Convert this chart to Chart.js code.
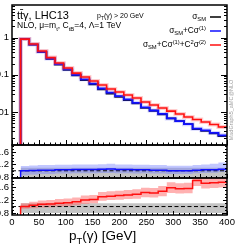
<!DOCTYPE html>
<html>
<head>
<meta charset="utf-8">
<script src="https://cdn.jsdelivr.net/npm/chart.js@4.4.0/dist/chart.umd.min.js"></script>
<style>
  html, body { margin: 0; padding: 0; background: #fff; overflow: hidden; width: 244px; height: 252px; }
  body { position: relative; }
  canvas { position: absolute; left: -24px; }
</style>
</head>
<body>
<canvas id="main" style="top:0px" width="268" height="147"></canvas>
<canvas id="ratio1" style="top:143px" width="268" height="37"></canvas>
<canvas id="ratio2" style="top:176px" width="268" height="76"></canvas>
<script>
'use strict';

// bins in pT(gamma) [GeV]
const binEdges = [16, 32, 48, 64, 80, 96, 112, 128, 144, 160, 176, 192, 208, 224, 240, 256, 272, 288, 304, 320, 336, 352, 368, 384, 400];

// main panel, arbitrary normalisation (log)
const sigmaSM = [0.911, 0.643, 0.406, 0.269, 0.188, 0.136, 0.0965, 0.0725, 0.0557, 0.0408, 0.0314, 0.0257,
  0.0210, 0.0172, 0.0130, 0.0108, 0.00871, 0.00671, 0.00570, 0.00471, 0.00349, 0.00313, 0.00267, 0.00226];
const sigmaLin = [0.911, 0.649, 0.414, 0.274, 0.194, 0.140, 0.100, 0.0754, 0.0579, 0.0428, 0.0333, 0.0267,
  0.0218, 0.0177, 0.0134, 0.0110, 0.00888, 0.00671, 0.00570, 0.00471, 0.00356, 0.00322, 0.00275, 0.00237];
const sigmaQuad = [0.911, 0.669, 0.434, 0.290, 0.207, 0.152, 0.111, 0.0870, 0.0680, 0.0531, 0.0414, 0.0344,
  0.0286, 0.0238, 0.0186, 0.0154, 0.0128, 0.0106, 0.00884, 0.00734, 0.00629, 0.00539, 0.00462, 0.00396];

// ratio panel 1: (SM + C sigma1) / SM
const ratioLin = [1.0, 1.01, 1.02, 1.02, 1.03, 1.03, 1.04, 1.04, 1.04, 1.05, 1.06, 1.04,
  1.04, 1.03, 1.03, 1.02, 1.02, 1.0, 1.0, 1.0, 1.02, 1.03, 1.03, 1.05];
const ratioLinLo = [0.86, 0.88, 0.9, 0.9, 0.91, 0.91, 0.92, 0.92, 0.92, 0.93, 0.93, 0.92,
  0.92, 0.91, 0.92, 0.91, 0.91, 0.9, 0.9, 0.9, 0.92, 0.93, 0.94, 0.96];
const ratioLinHi = [1.15, 1.17, 1.18, 1.18, 1.19, 1.19, 1.2, 1.2, 1.2, 1.21, 1.22, 1.2,
  1.2, 1.19, 1.19, 1.18, 1.18, 1.16, 1.16, 1.16, 1.18, 1.2, 1.22, 1.26];

// ratio panel 2: (SM + C sigma1 + C^2 sigma2) / SM
const ratioQuad = [1.0, 1.04, 1.07, 1.08, 1.10, 1.12, 1.15, 1.2, 1.22, 1.30, 1.32, 1.34,
  1.36, 1.38, 1.43, 1.42, 1.47, 1.58, 1.55, 1.56, 1.80, 1.72, 1.73, 1.75];
const ratioQuadLo = [0.93, 0.95, 0.97, 0.98, 1.0, 1.01, 1.04, 1.08, 1.1, 1.18, 1.2, 1.21,
  1.23, 1.24, 1.29, 1.28, 1.32, 1.42, 1.4, 1.41, 1.63, 1.56, 1.57, 1.59];
const ratioQuadHi = [1.1, 1.15, 1.19, 1.2, 1.23, 1.25, 1.28, 1.34, 1.36, 1.45, 1.47, 1.49,
  1.51, 1.53, 1.58, 1.57, 1.63, 1.75, 1.72, 1.73, 1.98, 1.9, 1.91, 1.93];

// SM scale band
const smBandLo = [0.8, 0.8, 0.8, 0.8, 0.8, 0.8, 0.8, 0.8, 0.8, 0.8, 0.8, 0.8,
  0.8, 0.8, 0.8, 0.8, 0.8, 0.8, 0.8, 0.8, 0.8, 0.8, 0.8, 0.8];
const smBandHi = [1.1, 1.1, 1.1, 1.1, 1.1, 1.1, 1.1, 1.1, 1.1, 1.1, 1.1, 1.1,
  1.1, 1.1, 1.1, 1.1, 1.1, 1.1, 1.1, 1.1, 1.1, 1.1, 1.1, 1.1];

const xTickLabels = [0, 50, 100, 150, 200, 250, 300, 350, 400];
const mainYTicks = [0.01, 0.1, 1];
const ratioYTicks = [0.8, 1.2, 1.6];
const refLine = 1;

const FONT = "'Liberation Sans', Arial, Helvetica, sans-serif";
const RED = '#ff1010';
const BLUE = '#1010ff';
const OFF = 24; // canvas is shifted 24px left of the page

function stepPoints(vals, floor) {
  const pts = [];
  if (floor !== undefined) pts.push({x: binEdges[0], y: floor});
  vals.forEach((v, i) => pts.push({x: binEdges[i], y: v}));
  pts.push({x: binEdges[vals.length], y: vals[vals.length - 1]});
  return pts;
}

function lineDs(data, color, width, order) {
  return {data, borderColor: color, borderWidth: width, stepped: true, pointRadius: 0, fill: false, order};
}

function bandDs(lo, hi, loIndex, color, order) {
  return [
    {data: stepPoints(lo), borderColor: 'rgba(0,0,0,0)', borderWidth: 1, stepped: true, pointRadius: 0, fill: false, order: order + 1},
    {data: stepPoints(hi), borderColor: 'rgba(0,0,0,0)', borderWidth: 1, stepped: true, pointRadius: 0,
      fill: loIndex, backgroundColor: color, order: order}
  ];
}

function refDs(order) {
  return {data: [{x: 0, y: refLine}, {x: 400, y: refLine}], borderColor: '#000', borderWidth: 1,
    borderDash: [4, 2.5], pointRadius: 0, fill: false, order};
}

function yAxis(type, min, max, ticks, fmt) {
  return {
    type, min, max,
    grid: {display: false, drawTicks: false},
    border: {display: false},
    ticks: {font: {family: FONT, size: 9.5}, color: '#000', padding: 3, autoSkip: false, callback: fmt},
    afterBuildTicks: s => { s.ticks = ticks.map(v => ({value: v})); },
    afterFit: s => { s.width = 36; s.paddingTop = 0; s.paddingBottom = 0; }
  };
}

function hiddenX() {
  return {type: 'linear', min: 0, max: 400, display: false};
}

function fontFor(kind, size) {
  const s = (kind === 'sub' || kind === 'sup') ? size * 0.7 : size;
  return s + 'px ' + FONT;
}

// draws text pieces with sub/superscripts; parts = [[text, kind], ...]
function rich(ctx, x, y, parts, size, align) {
  const widths = parts.map(([t, k]) => { ctx.font = fontFor(k, size); return ctx.measureText(t).width; });
  const total = widths.reduce((a, b) => a + b, 0);
  let cx = align === 'right' ? x - total : x;
  ctx.textAlign = 'left';
  ctx.textBaseline = 'alphabetic';
  parts.forEach(([t, k], i) => {
    ctx.font = fontFor(k, size);
    const dy = k === 'sub' ? size * 0.3 : (k === 'sup' ? -size * 0.38 : 0);
    ctx.fillText(t, cx, y + dy);
    if (k === 'bar') ctx.fillRect(cx, y - size * 0.86, widths[i], Math.max(0.8, size * 0.07));
    cx += widths[i];
  });
}

function drawFrame(chart, yMarks, xMaj, xMin, yMaj, yMin) {
  const {ctx, chartArea: a, scales: {x, y}} = chart;
  ctx.save();
  ctx.strokeStyle = '#000';
  ctx.lineWidth = 1;
  ctx.beginPath();
  for (let v = 0; v <= 400; v += 10) {
    const px = Math.round(x.getPixelForValue(v)) + 0.5;
    const len = v % 50 === 0 ? xMaj : xMin;
    ctx.moveTo(px, a.bottom);
    ctx.lineTo(px, a.bottom - len);
  }
  yMarks.forEach(([v, major]) => {
    const py = Math.round(y.getPixelForValue(v)) + 0.5;
    if (py < a.top + 1 || py > a.bottom - 1) return;
    const len = major ? yMaj : yMin;
    ctx.moveTo(a.left, py); ctx.lineTo(a.left + len, py);
    ctx.moveTo(a.right, py); ctx.lineTo(a.right - len, py);
  });
  ctx.stroke();
  ctx.lineWidth = 1.5;
  ctx.strokeRect(a.left, a.top, a.right - a.left, a.bottom - a.top);
  ctx.restore();
}

const logMarks = [];
for (let k = -3; k <= 0; k++) {
  for (let m = 1; m <= 9; m++) logMarks.push([m * Math.pow(10, k), m === 1]);
}
const ratioMarks = [];
for (let v = 0.8; v < 1.9; v += 0.1) {
  const r = Math.round(v * 10) / 10;
  ratioMarks.push([r, ratioYTicks.includes(r)]);
}

const common = {
  responsive: false,
  maintainAspectRatio: false,
  animation: false,
  events: [],
  plugins: {legend: {display: false}, tooltip: {enabled: false}}
};

// ---- main panel
new Chart(document.getElementById('main'), {
  type: 'line',
  data: {
    datasets: [
      lineDs(stepPoints(sigmaQuad, 1e-4), RED, 1.6, 0),
      lineDs(stepPoints(sigmaQuad, 1e-4), 'rgba(255,60,60,0.25)', 4, 1),
      lineDs(stepPoints(sigmaLin, 1e-4), BLUE, 1.8, 2),
      lineDs(stepPoints(sigmaLin, 1e-4), 'rgba(90,90,255,0.25)', 4, 3),
      lineDs(stepPoints(sigmaSM, 1e-4), '#000', 1.8, 4)
    ]
  },
  options: Object.assign({}, common, {
    layout: {padding: {top: 5, right: 17, bottom: 2, left: 0}},
    scales: {
      x: hiddenX(),
      y: yAxis('logarithmic', 0.0013, 7.5, mainYTicks, v => String(v))
    }
  }),
  plugins: [{
    id: 'deco',
    afterDatasetsDraw(chart) { drawFrame(chart, logMarks, 5, 2.5, 6, 3); },
    afterDraw(chart) {
      const ctx = chart.ctx;
      ctx.save();
      ctx.fillStyle = '#000';
      rich(ctx, 17 + OFF, 18.5, [['t', ''], ['t', 'bar'], ['\u03b3, LHC13', '']], 11);
      rich(ctx, 17 + OFF, 28, [['NLO, \u03bc=m', ''], ['t', 'sub'], [', C', ''], ['tB', 'sub'], ['=4, \u039b=1 TeV', '']], 8.5);
      rich(ctx, 97 + OFF, 18, [['p', ''], ['T', 'sub'], ['(\u03b3) > 20 GeV', '']], 7);
      const lx = 206 + OFF;
      rich(ctx, lx, 19, [['\u03c3', ''], ['SM', 'sub']], 8.3, 'right');
      rich(ctx, lx, 33, [['\u03c3', ''], ['SM', 'sub'], ['+C\u03c3', ''], ['(1)', 'sup']], 8.3, 'right');
      rich(ctx, lx, 47, [['\u03c3', ''], ['SM', 'sub'], ['+C\u03c3', ''], ['(1)', 'sup'], ['+C', ''], ['2', 'sup'], ['\u03c3', ''], ['(2)', 'sup']], 8.3, 'right');
      [['#000', 17], [BLUE, 31], [RED, 45]].forEach(([c, yy]) => {
        ctx.fillStyle = c;
        ctx.fillRect(210 + OFF, yy - 0.75, 11, 1.5);
      });
      ctx.translate(231 + OFF, 110);
      ctx.rotate(-Math.PI / 2);
      ctx.fillStyle = '#a0a0a0';
      ctx.font = '5.5px ' + FONT;
      ctx.textAlign = 'center';
      ctx.textBaseline = 'middle';
      ctx.fillText('MadGraph5_aMC@NLO', 0, 0);
      ctx.restore();
    }
  }]
});

// ---- ratio panel 1
new Chart(document.getElementById('ratio1'), {
  type: 'line',
  data: {
    datasets: [
      lineDs(stepPoints(ratioLin, 0.5), BLUE, 1.5, 0),
      refDs(1),
      ...bandDs(ratioLinLo, ratioLinHi, 2, 'rgba(120,130,255,0.45)', 2),
      ...bandDs(smBandLo, smBandHi, 4, 'rgba(190,190,190,0.9)', 4)
    ]
  },
  options: Object.assign({}, common, {
    layout: {padding: {top: 2, right: 17, bottom: 2, left: 0}},
    scales: {
      x: hiddenX(),
      y: yAxis('linear', 0.77, 1.82, ratioYTicks, v => v.toFixed(1))
    }
  }),
  plugins: [{
    id: 'deco',
    afterDatasetsDraw(chart) { drawFrame(chart, ratioMarks, 4, 2, 4, 2); }
  }]
});

// ---- ratio panel 2
new Chart(document.getElementById('ratio2'), {
  type: 'line',
  data: {
    datasets: [
      lineDs(stepPoints(ratioQuad, 0.5), RED, 1.5, 0),
      refDs(1),
      ...bandDs(ratioQuadLo, ratioQuadHi, 2, 'rgba(255,100,100,0.5)', 2),
      ...bandDs(smBandLo, smBandHi, 4, 'rgba(190,190,190,0.9)', 4)
    ]
  },
  options: Object.assign({}, common, {
    layout: {padding: {top: 2, right: 17, bottom: 0, left: 0}},
    scales: {
      x: {
        type: 'linear', min: 0, max: 400,
        grid: {display: false, drawTicks: false},
        border: {display: false},
        ticks: {font: {family: FONT, size: 9.5}, color: '#000', padding: 2, autoSkip: false, maxRotation: 0,
          callback: v => String(v)},
        afterBuildTicks: s => { s.ticks = xTickLabels.map(v => ({value: v})); },
        afterFit: s => { s.height = 37; s.paddingLeft = 0; s.paddingRight = 0; }
      },
      y: yAxis('linear', 0.74, 1.88, ratioYTicks, v => v.toFixed(1))
    }
  }),
  plugins: [{
    id: 'deco',
    afterDatasetsDraw(chart) { drawFrame(chart, ratioMarks, 4, 2, 4, 2); },
    afterDraw(chart) {
      const ctx = chart.ctx;
      ctx.save();
      ctx.fillStyle = '#000';
      rich(ctx, 69 + OFF, 64, [['p', ''], ['T', 'sub'], ['(\u03b3) [GeV]', '']], 13.5);
      ctx.restore();
    }
  }]
});
</script>
</body>
</html>
